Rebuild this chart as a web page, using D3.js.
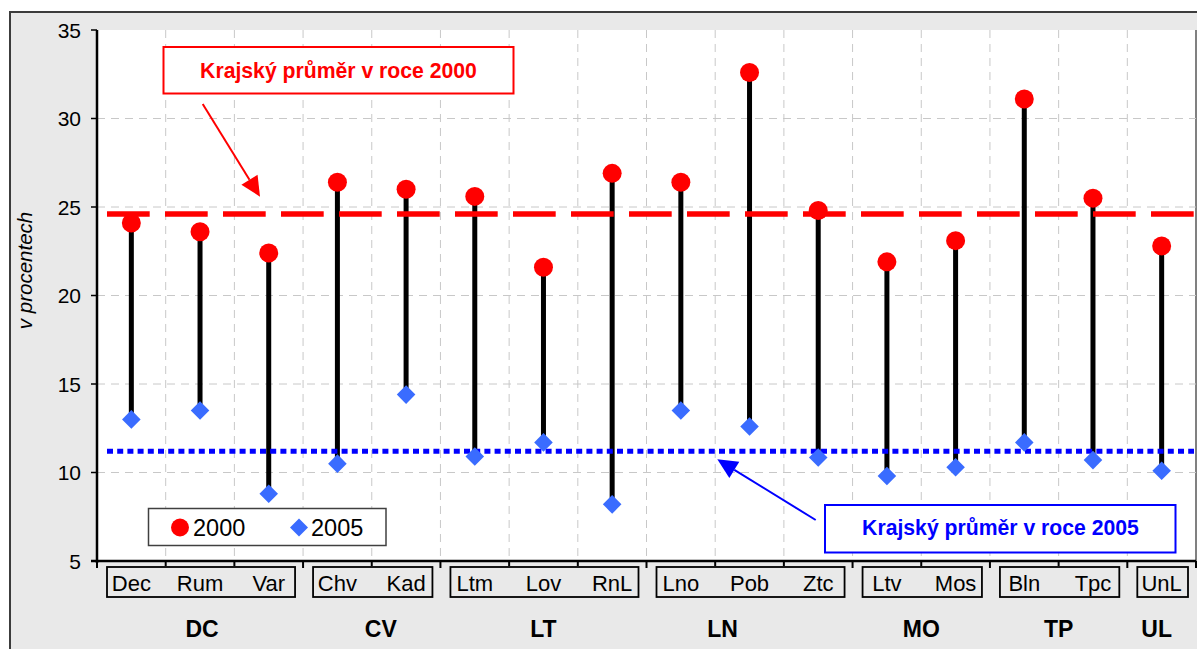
<!DOCTYPE html>
<html><head><meta charset="utf-8">
<script src="https://cdn.jsdelivr.net/npm/d3@7"></script>
<style>body{margin:0;background:#fff}svg{display:block;font-family:"Liberation Sans",Arial,sans-serif}</style>
</head><body>
<svg id="c" width="1197" height="649"></svg>
<script>
// ---- data ----
const categories = ["Dec","Rum","Var","Chv","Kad","Ltm","Lov","RnL","Lno","Pob","Ztc","Ltv","Mos","Bln","Tpc","UnL"];
const groupOf    = ["DC","DC","DC","CV","CV","LT","LT","LT","LN","LN","LN","MO","MO","TP","TP","UL"];
const groupNames = ["DC","CV","LT","LN","MO","TP","UL"];
const values2000 = [24.1,23.6,22.4,26.4,26.0,25.6,21.6,26.9,26.4,32.6,24.8,21.9,23.1,31.1,25.5,22.8];
const values2005 = [13.0,13.5,8.8,10.5,14.4,10.9,11.7,8.2,13.5,12.6,10.85,9.8,10.3,11.7,10.7,10.1];
const avg2000 = 24.6;
const avg2005 = 11.2;
const yTicks = [5,10,15,20,25,30,35];
const seriesNames = ["2000","2005"];
const annot2000 = "Krajský průměr v roce 2000";
const annot2005 = "Krajský průměr v roce 2005";
const yTitle = "v procentech";

// ---- layout ----
const L = 97, R = 1196, T = 30, B = 561;
const svg = d3.select("#c");
const x = d3.scaleBand().domain(categories).range([L, R]).padding(0);
const y = d3.scaleLinear().domain([5, 35]).range([B, T]);
const RED = "#ff0000", BLUE = "#0000ff", DIAM = "#3a6cff";
const groupNudge = {CV: 9, LN: -27, UL: -5, DC: 2};

// outer frame
svg.append("rect").attr("x",10).attr("y",12).attr("width",1200).attr("height",660)
  .attr("fill","#e9e9e9").attr("stroke","#3c3c3c").attr("stroke-width",2);
// plot area
svg.append("rect").attr("x",L).attr("y",T).attr("width",R-L).attr("height",B-T).attr("fill","#fff");
svg.append("line").attr("x1",R).attr("x2",R).attr("y1",T).attr("y2",B).attr("stroke","#808080").attr("stroke-width",2);

// grid
const grid = svg.append("g").attr("stroke","#c8c8c8").attr("stroke-width",1).attr("stroke-dasharray","8,6");
yTicks.filter(t => t > 5 && t < 35).forEach(t => {
  grid.append("line").attr("x1",L).attr("x2",R).attr("y1",y(t)).attr("y2",y(t));
});
categories.slice(1).forEach(c => {
  grid.append("line").attr("x1",x(c)).attr("x2",x(c)).attr("y1",T).attr("y2",B);
});

const cx = c => x(c) + x.bandwidth()/2;

// stems
svg.append("g").selectAll("line").data(categories).join("line")
  .attr("x1",cx).attr("x2",cx)
  .attr("y1",(c,i)=>y(values2000[i])).attr("y2",(c,i)=>y(values2005[i]))
  .attr("stroke","#000").attr("stroke-width",5);

// average lines
const avgStart = L + 10;
svg.append("line").attr("x1",avgStart).attr("x2",R-2).attr("y1",y(avg2000)).attr("y2",y(avg2000))
  .attr("stroke",RED).attr("stroke-width",5.5).attr("stroke-dasharray","42.7,15.3");
svg.append("line").attr("x1",avgStart).attr("x2",R-2).attr("y1",y(avg2005)).attr("y2",y(avg2005))
  .attr("stroke",BLUE).attr("stroke-width",5).attr("stroke-dasharray","6,4.2");

// markers
const diamond = (px,py,s) => `M${px},${py-s}L${px+s},${py}L${px},${py+s}L${px-s},${py}Z`;
svg.append("g").selectAll("path").data(categories).join("path")
  .attr("d",(c,i)=>diamond(cx(c), y(values2005[i]), 9.3)).attr("fill",DIAM);
svg.append("g").selectAll("circle").data(categories).join("circle")
  .attr("cx",cx).attr("cy",(c,i)=>y(values2000[i])).attr("r",9.5).attr("fill",RED);

// axes
svg.append("line").attr("x1",L).attr("x2",L).attr("y1",T).attr("y2",B+2).attr("stroke","#000").attr("stroke-width",2.5);
svg.append("line").attr("x1",L-6).attr("x2",R).attr("y1",B).attr("y2",B).attr("stroke","#000").attr("stroke-width",2.5);
const ya = svg.append("g");
yTicks.forEach(t => {
  ya.append("line").attr("x1",L-6).attr("x2",L).attr("y1",y(t)).attr("y2",y(t)).attr("stroke","#000").attr("stroke-width",1.5);
  ya.append("text").attr("x",L-16).attr("y",y(t)+7.5).attr("text-anchor","end")
    .attr("font-size",21).attr("fill","#000").text(t);
});
// x ticks at boundaries
categories.concat(["__end"]).forEach((c,i) => {
  const px = i < categories.length ? x(c) : R;
  const isGroupEdge = i===0 || i===categories.length || groupOf[i] !== groupOf[i-1];
  svg.append("line").attr("x1",px).attr("x2",px).attr("y1",B).attr("y2",B+(isGroupEdge?7:5))
    .attr("stroke","#000").attr("stroke-width",2);
});

// y title
svg.append("text").attr("transform",`translate(32,${(T+B)/2 - 25}) rotate(-90)`)
  .attr("text-anchor","middle").attr("font-size",20.5).attr("font-style","italic").text(yTitle);

// category labels & group boxes
svg.append("g").selectAll("text").data(categories).join("text")
  .attr("x",cx).attr("y",591).attr("text-anchor","middle").attr("font-size",22).text(d=>d);
groupNames.forEach(g => {
  const members = categories.filter((c,i)=>groupOf[i]===g);
  const x0 = x(members[0]) + 10, x1 = x(members[members.length-1]) + x.bandwidth() - 8;
  svg.append("rect").attr("x",x0).attr("y",567).attr("width",x1-x0).attr("height",30)
    .attr("fill","none").attr("stroke","#000").attr("stroke-width",1.8);
  svg.append("text").attr("x",(x(members[0]) + x(members[members.length-1]) + x.bandwidth())/2 + (groupNudge[g]||0))
    .attr("y",637).attr("text-anchor","middle").attr("font-size",23).attr("font-weight","bold").text(g);
});

// legend
const lg = svg.append("g");
lg.append("rect").attr("x",148.5).attr("y",508.5).attr("width",237.5).attr("height",37)
  .attr("fill","#fff").attr("stroke","#404040").attr("stroke-width",1.5);
lg.append("circle").attr("cx",180).attr("cy",527.5).attr("r",9).attr("fill",RED);
lg.append("text").attr("x",193).attr("y",536).attr("font-size",23.5).text(seriesNames[0]);
lg.append("path").attr("d",diamond(299,527.5,9)).attr("fill",DIAM);
lg.append("text").attr("x",311).attr("y",536).attr("font-size",23.5).text(seriesNames[1]);

// annotations
function arrow(x1,y1,tx,ty,color){
  const ang = Math.atan2(ty-y1, tx-x1), len = 20, hw = 9.5;
  const bx = tx - len*Math.cos(ang), by = ty - len*Math.sin(ang);
  svg.append("line").attr("x1",x1).attr("y1",y1).attr("x2",bx).attr("y2",by).attr("stroke",color).attr("stroke-width",2);
  const px = -Math.sin(ang)*hw, py = Math.cos(ang)*hw;
  svg.append("path").attr("d",`M${tx},${ty}L${bx+px},${by+py}L${bx-px},${by-py}Z`).attr("fill",color);
}
svg.append("rect").attr("x",163.5).attr("y",47).attr("width",350).attr("height",46.5)
  .attr("fill","#fff").attr("stroke",RED).attr("stroke-width",2);
svg.append("text").attr("x",338.5).attr("y",77.5).attr("text-anchor","middle").attr("font-size",21.2)
  .attr("font-weight","bold").attr("fill",RED).text(annot2000);
arrow(202.7,104,260,196.7,RED);

svg.append("rect").attr("x",825).attr("y",505).attr("width",350.5).attr("height",47.5)
  .attr("fill","#fff").attr("stroke",BLUE).attr("stroke-width",2);
svg.append("text").attr("x",1000.5).attr("y",535).attr("text-anchor","middle").attr("font-size",21.2)
  .attr("font-weight","bold").attr("fill",BLUE).text(annot2005);
arrow(815.7,520,717.3,459.3,BLUE);
</script>
</body></html>
